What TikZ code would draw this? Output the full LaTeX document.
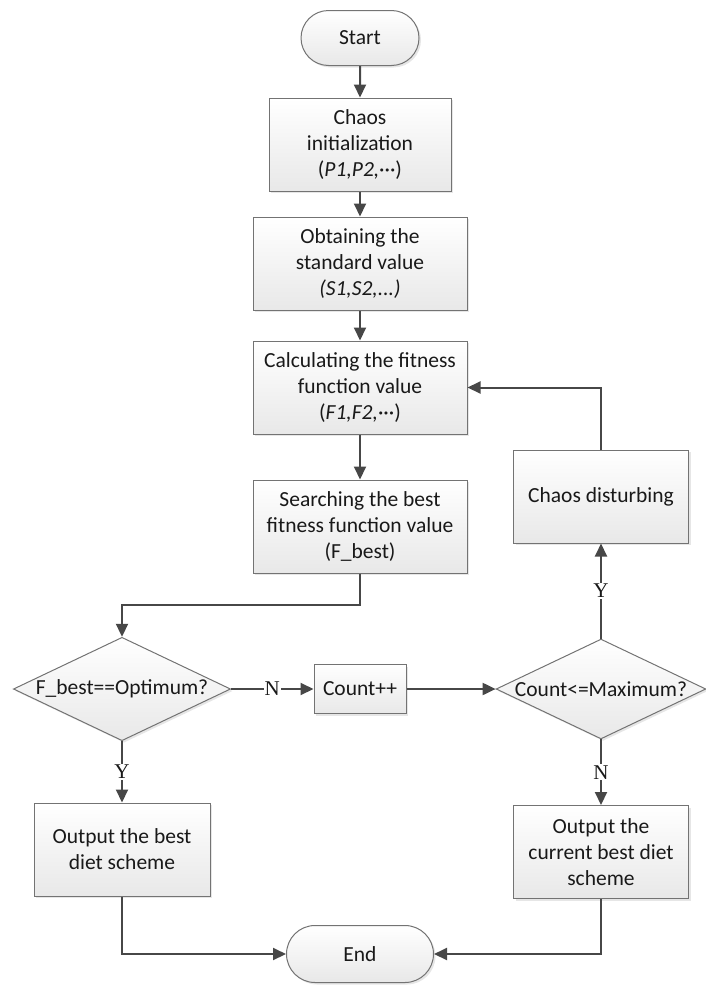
\documentclass[tikz,border=0pt]{standalone}
\usepackage{fontspec}
\setmainfont{Carlito}
\newfontfamily\yesnofont{Liberation Serif}
\usetikzlibrary{arrows.meta, positioning, shapes.geometric, shapes.misc, shadows}

\begin{document}
\begin{tikzpicture}[
        x=1pt, y=1pt,
        node distance=2cm,
        every node/.style={align=center, text=black!90, font=\fontsize{21.5}{26}\selectfont},
        box/.style={draw=black!55, line width=1pt, top color=white, bottom color=black!9,
            drop shadow={shadow xshift=2pt, shadow yshift=-2pt, opacity=0.2}, minimum height=93pt, inner sep=2pt},
        term/.style={box, rounded rectangle, minimum height=55pt},
        decision/.style={box, diamond, aspect=2.1, inner sep=1pt},
        arrow/.style={-{Triangle[length=13pt, width=12pt]}, line width=2pt, draw=black!72},
        yn/.style={fill=white, inner sep=1pt, font=\yesnofont\fontsize{21}{21}\selectfont}
        ]

        \useasboundingbox (0,0) rectangle (705,-985);

        % Main column
        \node[term, minimum width=122pt] (Start) at (360,-38) {Start};
        \node[box, below of=Start, node distance=106.5pt, minimum width=182pt] (Chaos_init) {Chaos\\ initialization\\ (\textit{P1,P2,}···)};
        \node[box, below of=Chaos_init, node distance=119pt, minimum width=214pt] (Standard) {Obtaining the\\ standard value\\ \textit{(S1,S2,...)}};
        \node[box, below of=Standard, node distance=124pt, minimum width=214pt] (Fitness) {Calculating the fitness\\ function value\\ (\textit{F1,F2,}···)};
        \node[box, below of=Fitness, node distance=139pt, minimum width=214pt] (Best) {Searching the best\\ fitness function value\\ (F\_best)};

        % Decision row
        \node[box, below of=Best, node distance=162.5pt, minimum width=92pt, minimum height=49pt] (Count) {Count++};
        \node[decision, left of=Count, node distance=238pt] (Optimum) {F\_best==Optimum?};
        \node[decision, right of=Count, node distance=241pt] (Maximum) {Count<=Maximum?};
        \node[box, above of=Maximum, node distance=192.5pt, minimum width=175pt] (Disturb) {Chaos disturbing};

        % Outputs
        \node[box, below of=Optimum, node distance=160.5pt, minimum width=176pt] (Output_best) {Output the best\\ diet scheme};
        \node[box, below of=Maximum, node distance=163pt, minimum width=175pt] (Output_current) {Output the\\ current best diet\\ scheme};
        \node[term, below of=Count, node distance=265pt, minimum width=151pt, minimum height=57pt] (End) {End};

        \draw [arrow] (Start) -- (Chaos_init);
        \draw [arrow] (Chaos_init) -- (Standard);
        \draw [arrow] (Standard) -- (Fitness);
        \draw [arrow] (Fitness) -- (Best);
        \draw [arrow] (Best.south) -- ++(0,-31) -| (Optimum.north);
        \draw [arrow] (Optimum.east) -- node[yn] {N} (Count.west);
        \draw [arrow] (Count.east) -- (Maximum.west);
        \draw [arrow] (Maximum.north) -- node[yn] {Y} (Disturb.south);
        \draw [arrow] (Disturb.north) |- (Fitness.east);
        \draw [arrow] (Optimum.south) -- node[yn] {Y} (Output_best.north);
        \draw [arrow] (Maximum.south) -- node[yn] {N} (Output_current.north);
        \draw [arrow] (Output_best.south) |- (End.west);
        \draw [arrow] (Output_current.south) |- (End.east);

    \end{tikzpicture}
\end{document}
